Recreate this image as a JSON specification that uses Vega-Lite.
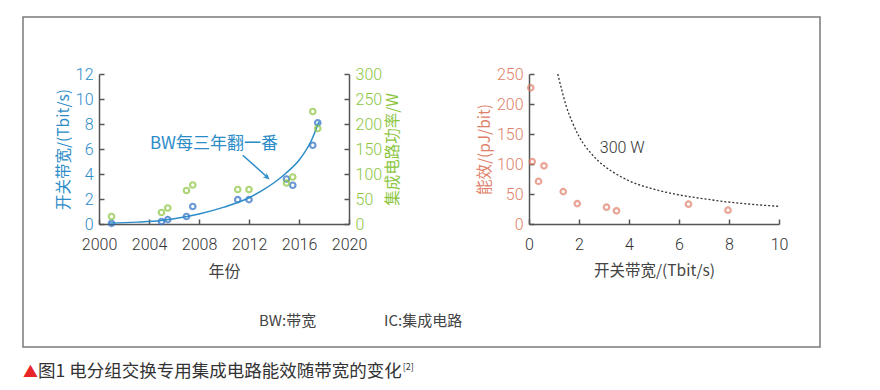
{
  "$schema": "https://vega.github.io/schema/vega-lite/v6.json",
  "padding": {"left": 22, "top": 16, "right": 0, "bottom": 10},
  "background": "#ffffff",
  "config": {
    "view": {"stroke": null},
    "font": "Noto Sans CJK SC",
    "axis": {
      "grid": false,
      "domainColor": "#555555",
      "domainWidth": 1.5,
      "tickColor": "#555555",
      "tickWidth": 1.5,
      "tickSize": -5,
      "labelFont": "Roboto",
      "labelFontWeight": 300,
      "labelFontSize": 16,
      "labelColor": "#333333",
      "labelPadding": 11,
      "labelOverlap": false,
      "labelFlush": false,
      "labelBound": false,
      "titleFont": "Noto Sans CJK SC",
      "titleFontWeight": "normal",
      "titleFontSize": 15,
      "titleColor": "#444444"
    },
    "axisX": {"labelPadding": 17, "titlePadding": 11}
  },
  "datasets": {
    "bw": [
      {"year": 2001, "bw": 0.05}, {"year": 2005, "bw": 0.2}, {"year": 2005.5, "bw": 0.35},
      {"year": 2007, "bw": 0.6}, {"year": 2007.5, "bw": 1.4}, {"year": 2011.1, "bw": 1.95},
      {"year": 2012, "bw": 1.95}, {"year": 2015, "bw": 3.6}, {"year": 2015.5, "bw": 3.1},
      {"year": 2017.1, "bw": 6.3}, {"year": 2017.5, "bw": 8.1}
    ],
    "ic": [
      {"year": 2001, "power": 15}, {"year": 2005, "power": 23}, {"year": 2005.5, "power": 32},
      {"year": 2007, "power": 67}, {"year": 2007.5, "power": 78}, {"year": 2011.1, "power": 69},
      {"year": 2012, "power": 69}, {"year": 2015, "power": 82}, {"year": 2015.5, "power": 94},
      {"year": 2017.1, "power": 225}, {"year": 2017.5, "power": 191}
    ],
    "fit": [
      {"year": 2000.8, "bw": 0.08}, {"year": 2003, "bw": 0.15}, {"year": 2005, "bw": 0.28},
      {"year": 2006, "bw": 0.42}, {"year": 2008, "bw": 0.8}, {"year": 2010, "bw": 1.35},
      {"year": 2012, "bw": 2.1}, {"year": 2013, "bw": 2.65}, {"year": 2014, "bw": 3.3},
      {"year": 2015, "bw": 4.1}, {"year": 2016, "bw": 5.1}, {"year": 2017, "bw": 6.7},
      {"year": 2017.6, "bw": 8.2}
    ],
    "eff": [
      {"bw": 0.07, "eff": 227}, {"bw": 0.13, "eff": 104}, {"bw": 0.6, "eff": 97},
      {"bw": 0.38, "eff": 71}, {"bw": 1.37, "eff": 54}, {"bw": 1.93, "eff": 34},
      {"bw": 3.1, "eff": 28}, {"bw": 3.5, "eff": 22}, {"bw": 6.38, "eff": 33},
      {"bw": 7.96, "eff": 23}
    ],
    "w300": [
      {"bw": 1.15, "eff": 250}, {"bw": 1.3, "eff": 225}, {"bw": 1.5, "eff": 195},
      {"bw": 1.75, "eff": 168}, {"bw": 2, "eff": 146}, {"bw": 2.5, "eff": 117},
      {"bw": 3, "eff": 97}, {"bw": 3.5, "eff": 83}, {"bw": 4, "eff": 72},
      {"bw": 5, "eff": 58}, {"bw": 6, "eff": 48.5}, {"bw": 7, "eff": 42},
      {"bw": 8, "eff": 36.5}, {"bw": 9, "eff": 32.5}, {"bw": 10, "eff": 29.5}
    ]
  },
  "bounds": "flush",
  "spacing": 180,
  "hconcat": [
    {
      "width": 250,
      "height": 150,
      "resolve": {"scale": {"y": "independent"}},
      "layer": [
        {
          "layer": [
            {
              "data": {"name": "bw"},
              "mark": {"type": "point", "filled": false, "color": "#2e6fc4", "strokeWidth": 2.2, "size": 30},
              "encoding": {
                "x": {"field": "year", "type": "quantitative", "scale": {"domain": [2000, 2020], "nice": false},
                  "axis": {"values": [2000, 2004, 2008, 2012, 2016, 2020], "format": "d", "title": "年份", "titleFontSize": 16}},
                "y": {"field": "bw", "type": "quantitative", "scale": {"domain": [0, 12], "nice": false},
                  "axis": {"orient": "left", "values": [0, 2, 4, 6, 8, 10, 12], "tickCount": 7, "labelOverlap": false, "title": "开关带宽/(Tbit/s)", "labelColor": "#2b8cc8", "titleColor": "#2b8cc8", "titleFontSize": 15.5}}
              }
            },
            {
              "data": {"values": [{}]},
              "mark": {"type": "rect", "fill": null, "stroke": "#7a7a7a", "strokeWidth": 1.5},
              "encoding": {
                "x": {"datum": 1993.92, "type": "quantitative"},
                "x2": {"datum": 2057.68},
                "y": {"datum": 16.56, "type": "quantitative"},
                "y2": {"datum": -9.84}
              }
            },
            {
              "data": {"name": "fit"},
              "mark": {"type": "line", "color": "#2b8cc8", "strokeWidth": 1.5, "interpolate": "monotone"},
              "encoding": {
                "x": {"field": "year", "type": "quantitative"},
                "y": {"field": "bw", "type": "quantitative"}
              }
            },
            {
              "data": {"values": [{"t": "BW每三年翻一番"}]},
              "mark": {"type": "text", "color": "#2b8cc8", "fontSize": 17, "align": "center", "baseline": "middle"},
              "encoding": {
                "x": {"datum": 2009.2, "type": "quantitative"},
                "y": {"datum": 6.4, "type": "quantitative"},
                "text": {"field": "t"}
              }
            },
            {
              "data": {"values": [{}]},
              "mark": {"type": "rule", "color": "#2b8cc8", "strokeWidth": 1.5},
              "encoding": {
                "x": {"datum": 2011.5, "type": "quantitative"},
                "y": {"datum": 5.5, "type": "quantitative"},
                "x2": {"datum": 2013.4},
                "y2": {"datum": 3.8}
              }
            },
            {
              "data": {"values": [{}]},
              "mark": {"type": "point", "filled": true, "color": "#2b8cc8", "opacity": 1, "size": 70, "angle": 42, "shape": "M-1,-0.7L0.6,0L-1,0.7L-0.55,0Z"},
              "encoding": {
                "x": {"datum": 2013.5, "type": "quantitative"},
                "y": {"datum": 3.7, "type": "quantitative"}
              }
            },
            {
              "data": {"values": [{"t": "BW:带宽"}]},
              "mark": {"type": "text", "color": "#444444", "fontSize": 15, "align": "left", "baseline": "middle"},
              "encoding": {
                "x": {"datum": 2012.8, "type": "quantitative"},
                "y": {"datum": -7.76, "type": "quantitative"},
                "text": {"field": "t"}
              }
            },
            {
              "data": {"values": [{"t": "IC:集成电路"}]},
              "mark": {"type": "text", "color": "#444444", "fontSize": 15, "align": "left", "baseline": "middle"},
              "encoding": {
                "x": {"datum": 2022.8, "type": "quantitative"},
                "y": {"datum": -7.76, "type": "quantitative"},
                "text": {"field": "t"}
              }
            },
            {
              "data": {"values": [{"t": "▲"}]},
              "mark": {"type": "text", "color": "#e8262a", "fontSize": 15, "align": "left", "baseline": "middle"},
              "encoding": {
                "x": {"datum": 1993.92, "type": "quantitative"},
                "y": {"datum": -11.84, "type": "quantitative"},
                "text": {"field": "t"}
              }
            },
            {
              "data": {"values": [{"t": "图1 电分组交换专用集成电路能效随带宽的变化"}]},
              "mark": {"type": "text", "color": "#333333", "fontSize": 17.5, "align": "left", "baseline": "middle"},
              "encoding": {
                "x": {"datum": 1995.12, "type": "quantitative"},
                "y": {"datum": -11.84, "type": "quantitative"},
                "text": {"field": "t"}
              }
            },
            {
              "data": {"values": [{"t": "[2]"}]},
              "mark": {"type": "text", "color": "#333333", "fontSize": 9, "align": "left", "baseline": "middle"},
              "encoding": {
                "x": {"datum": 2024.3, "type": "quantitative"},
                "y": {"datum": -11.45, "type": "quantitative"},
                "text": {"field": "t"}
              }
            }
          ]
        },
        {
          "data": {"name": "ic"},
          "mark": {"type": "point", "filled": false, "color": "#8cc63f", "strokeWidth": 2.2, "size": 30},
          "encoding": {
            "x": {"field": "year", "type": "quantitative"},
            "y": {"field": "power", "type": "quantitative", "scale": {"domain": [0, 300], "nice": false},
              "axis": {"orient": "right", "values": [0, 50, 100, 150, 200, 250, 300], "title": "集成电路功率/W", "titleAngle": 270, "titleBaseline": "top", "labelColor": "#8cc63f", "titleColor": "#8cc63f", "titleFontSize": 15.5}}
          }
        }
      ]
    },
    {
      "width": 250,
      "height": 150,
      "layer": [
        {
          "data": {"name": "eff"},
          "mark": {"type": "point", "filled": false, "color": "#e07f69", "strokeWidth": 2.2, "size": 30},
          "encoding": {
            "x": {"field": "bw", "type": "quantitative", "scale": {"domain": [0, 10], "nice": false},
              "axis": {"values": [0, 2, 4, 6, 8, 10], "title": "开关带宽/(Tbit/s)", "titleFontSize": 15.5}},
            "y": {"field": "eff", "type": "quantitative", "scale": {"domain": [0, 250], "nice": false},
              "axis": {"orient": "left", "values": [0, 50, 100, 150, 200, 250], "tickCount": 6, "labelOverlap": false, "title": "能效/(pJ/bit)", "labelColor": "#e07f69", "titleColor": "#e07f69", "titleFontSize": 15.5}}
          }
        },
        {
          "data": {"name": "w300"},
          "mark": {"type": "line", "color": "#333333", "strokeWidth": 1.3, "strokeDash": [2, 2], "interpolate": "monotone"},
          "encoding": {
            "x": {"field": "bw", "type": "quantitative"},
            "y": {"field": "eff", "type": "quantitative"}
          }
        },
        {
          "data": {"values": [{"t": "300 W"}]},
          "mark": {"type": "text", "color": "#333333", "fontSize": 16, "font": "Roboto", "fontWeight": 300, "align": "center", "baseline": "middle"},
          "encoding": {
            "x": {"datum": 3.73, "type": "quantitative"},
            "y": {"datum": 126.7, "type": "quantitative"},
            "text": {"field": "t"}
          }
        }
      ]
    }
  ]
}
